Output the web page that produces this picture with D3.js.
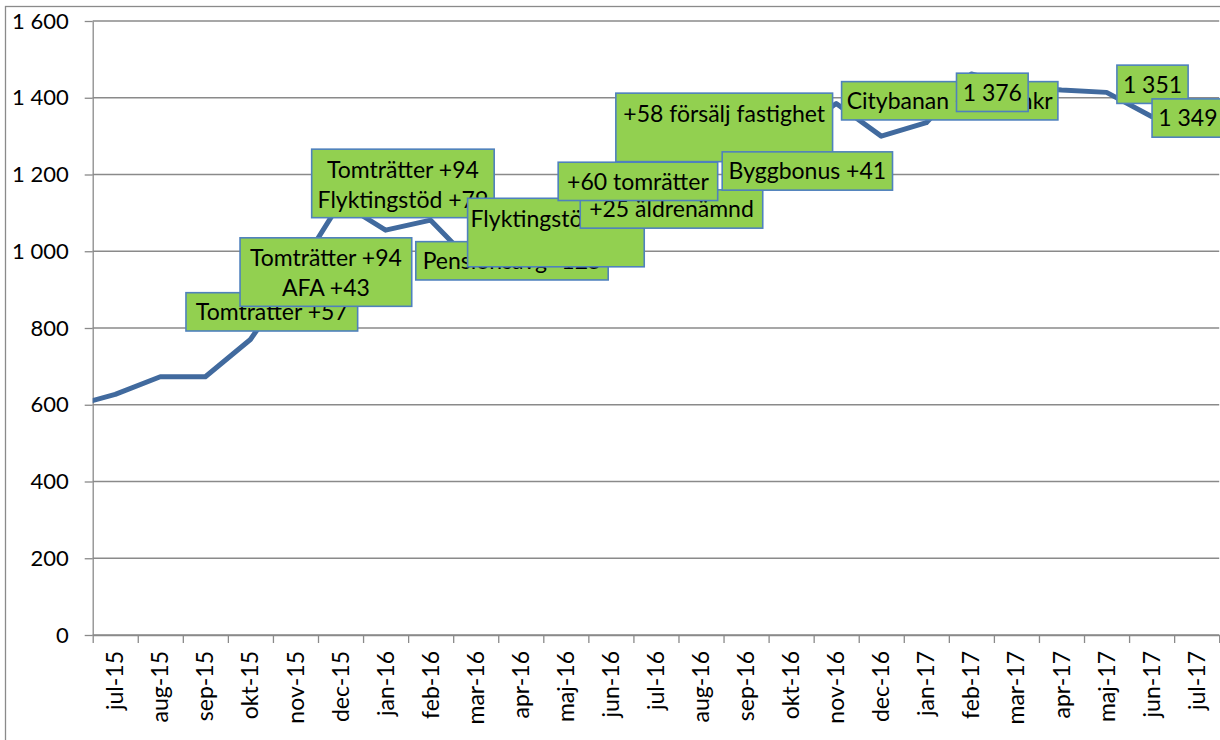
<!DOCTYPE html>
<meta charset="utf-8">
<title>Utfall per månad</title>
<style>
body {
  margin: 0px;
  background: #fff;
}
svg {
  display: block;
  font-family: Lato, sans-serif;
}
</style>
<body>
<script src="https://d3js.org/d3.v7.min.js"></script>
<script>

// month categories on the x axis
var months = ["jul-15","aug-15","sep-15","okt-15","nov-15","dec-15","jan-16","feb-16",
  "mar-16","apr-16","maj-16","jun-16","jul-16","aug-16","sep-16","okt-16","nov-16",
  "dec-16","jan-17","feb-17","mar-17","apr-17","maj-17","jun-17","jul-17"];

// the series begins with jun-15, one month before the first category
var seriesStart = -1;
var values = [595, 627, 673, 673, 770, 940, 1128, 1055, 1081, 960, 1010, 1050, 1130,
  1190, 1230, 1270, 1300, 1385, 1300, 1335, 1462, 1430, 1420, 1414, 1351, 1349];

var yTicks = [0, 200, 400, 600, 800, 1000, 1200, 1400, 1600];

// text boxes: lines, span in months, top edge in value units
var notes = [
  {lines: ["Tomträtter +57"], from: 2.07, to: 5.88, top: 892},
  {lines: ["Tomträtter +94", "AFA +43"], from: 3.27, to: 7.08, top: 1035},
  {lines: ["Tomträtter +94", "Flyktingstöd +79"], from: 4.86, to: 8.91, top: 1266},
  {lines: ["Pensionsavg -125"], from: 7.17, to: 11.44, top: 1025},
  {lines: ["Flyktingstöd +60", ""], from: 8.32, to: 12.24, top: 1138},
  {lines: ["+25 äldrenämnd"], from: 10.82, to: 14.87, top: 1160},
  {lines: ["+60 tomrätter"], from: 10.33, to: 13.87, top: 1232},
  {lines: ["+58 försälj fastighet", ""], from: 11.61, to: 16.42, top: 1412},
  {lines: ["Byggbonus +41"], from: 13.97, to: 17.75, top: 1259},
  {lines: ["Citybanan +75 mnkr"], from: 16.62, to: 21.42, top: 1442},
  {lines: ["1 376"], from: 19.17, to: 20.76, top: 1464},
  {lines: ["1 351"], from: 22.73, to: 24.31, top: 1485},
  {lines: ["1 349"], from: 23.51, to: 25.10, top: 1397}
];

var width = 1220, height = 740;
var plotLeft = 92.7, plotRight = 1219.2, plotTop = 21, plotBottom = 635;

var svg = d3.select("body").append("svg")
    .attr("width", width)
    .attr("height", height);

// chart area border (runs past the picture on the right and bottom)
svg.append("rect")
    .attr("x", 5.5).attr("y", 6.5)
    .attr("width", 1300).attr("height", 800)
    .attr("fill", "none")
    .attr("stroke", "#8a8a8a")
    .attr("stroke-width", 1.3);

var x = d3.scaleLinear().domain([0, months.length]).range([plotLeft, plotRight]);
var y = d3.scaleLinear().domain([0, 1600]).range([plotBottom, plotTop]);
var band = d3.scaleBand().domain(months).range([plotLeft, plotRight]);

var fmt = d3.formatLocale({decimal: ",", thousands: " ", grouping: [3], currency: ["", ""]}).format(",");

// gridlines
svg.append("g")
  .selectAll("line")
  .data(yTicks)
  .enter().append("line")
    .attr("x1", plotLeft).attr("x2", plotRight)
    .attr("y1", function(d) { return y(d); })
    .attr("y2", function(d) { return y(d); })
    .attr("stroke", "#8a8a8a")
    .attr("stroke-width", 1.3);

// y axis
var yAxis = svg.append("g")
    .attr("transform", "translate(" + plotLeft + ",0)")
    .call(d3.axisLeft(y).tickValues(yTicks).tickSize(8).tickSizeOuter(0).tickPadding(16).tickFormat(fmt));
yAxis.selectAll("line, path").attr("stroke", "#8a8a8a").attr("stroke-width", 1.3);
yAxis.selectAll("text")
    .attr("fill", "#000")
    .style("font-size", "22px")
    .style("font-family", "Lato, sans-serif");

// x axis: tick marks between categories
var xAxis = svg.append("g")
    .attr("transform", "translate(0," + plotBottom + ")")
    .call(d3.axisBottom(x).tickValues(d3.range(0, months.length + 1)).tickSize(8).tickSizeOuter(0).tickFormat(""));
xAxis.selectAll("line, path").attr("stroke", "#8a8a8a").attr("stroke-width", 1.3);

// month labels, rotated
var xLabels = svg.append("g")
    .attr("transform", "translate(0," + plotBottom + ")")
    .call(d3.axisBottom(band).tickSize(0).tickSizeOuter(0));
xLabels.select(".domain").remove();
xLabels.selectAll("text")
    .attr("transform", "rotate(-90)")
    .attr("x", -16).attr("y", 0)
    .attr("dy", "0.35em")
    .attr("fill", "#000")
    .style("text-anchor", "end")
    .style("font-size", "23px")
    .style("font-family", "Lato, sans-serif");

// the line, clipped to the plot area
svg.append("clipPath").attr("id", "plot")
  .append("rect")
    .attr("x", plotLeft).attr("y", 0)
    .attr("width", plotRight - plotLeft).attr("height", plotBottom);

var line = d3.line()
    .x(function(d, i) { return x(seriesStart + i + 0.5); })
    .y(function(d) { return y(d); });

svg.append("path")
    .datum(values)
    .attr("clip-path", "url(#plot)")
    .attr("d", line)
    .attr("fill", "none")
    .attr("stroke", "#416a9e")
    .attr("stroke-width", 5)
    .attr("stroke-linejoin", "round");

// annotation boxes, drawn in order so later ones cover earlier ones
var box = svg.selectAll("g.note")
    .data(notes)
  .enter().append("g")
    .attr("class", "note");

box.append("rect")
    .attr("x", function(d) { return x(d.from); })
    .attr("y", function(d) { return y(d.top); })
    .attr("width", function(d) { return x(d.to) - x(d.from); })
    .attr("height", function(d) { return d.lines.length > 1 ? 68.5 : 38.3; })
    .attr("fill", "#92d050")
    .attr("stroke", "#4f81bd")
    .attr("stroke-width", 1.6);

box.each(function(d) {
  var g = d3.select(this);
  var cx = (x(d.from) + x(d.to)) / 2;
  d.lines.forEach(function(t, i) {
    g.append("text")
        .attr("x", cx)
        .attr("y", y(d.top) + (d.lines.length > 1 ? 20.5 : 19.5) + 30 * i)
        .attr("dy", "0.35em")
        .attr("text-anchor", "middle")
        .style("font-size", "23px")
        .attr("fill", "#000")
        .text(t);
  });
});

</script>
